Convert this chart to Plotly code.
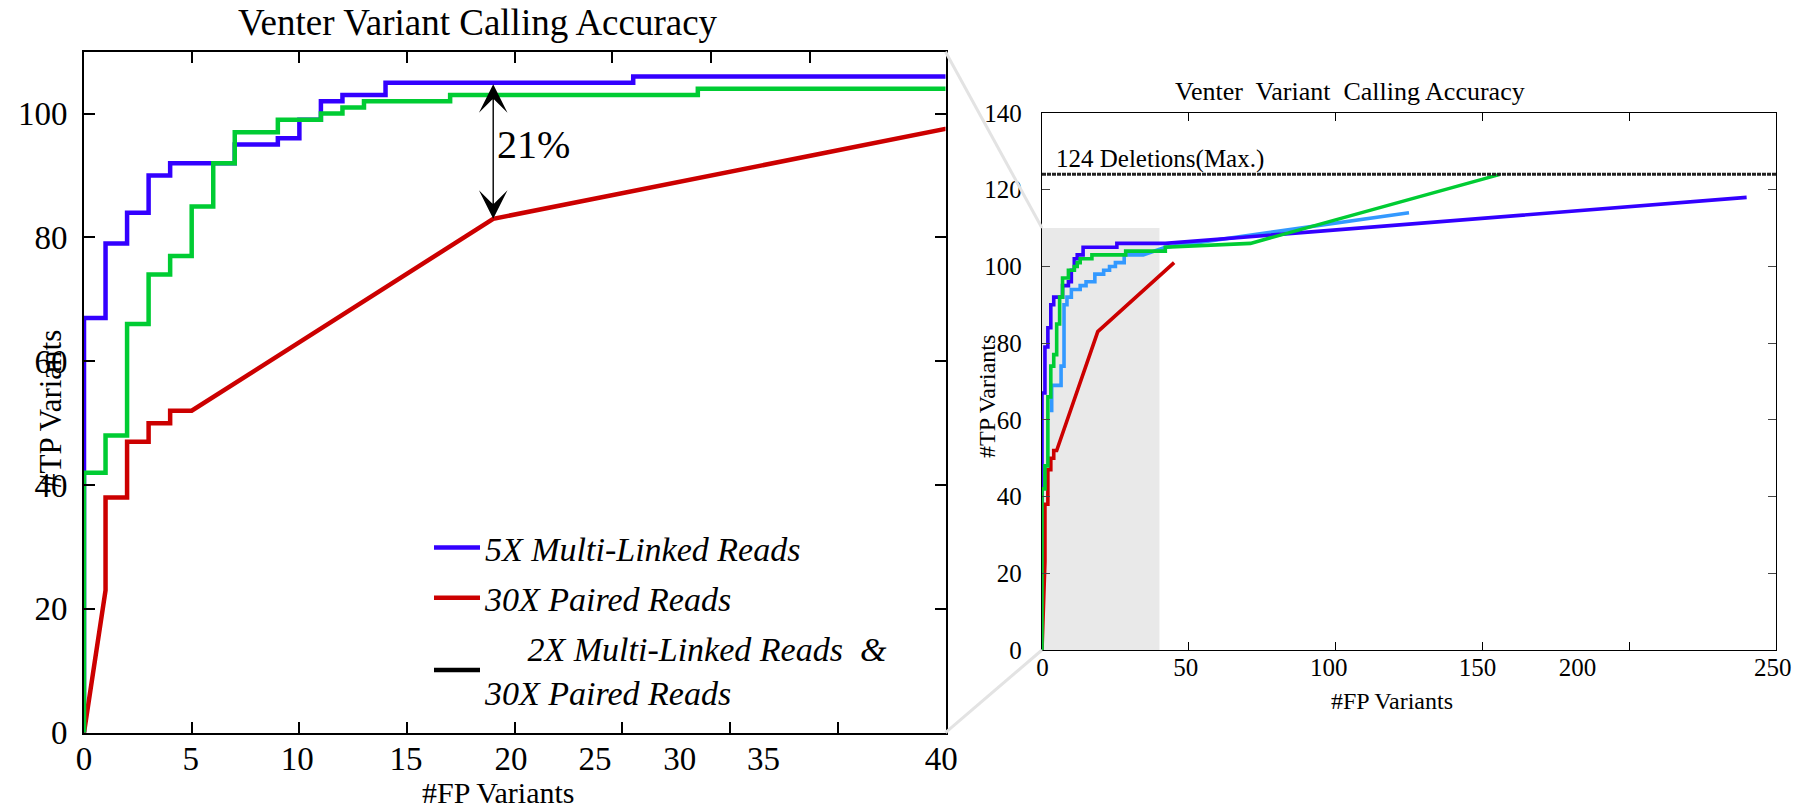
import plotly.graph_objects as go

W, H = 1805, 811

# ---------------- data ----------------
blue_fp = [0, 0, 1, 1, 2, 2, 3, 3, 4, 4, 7, 7, 9, 9, 10, 10, 11, 11, 12, 12, 14, 14, 25.5, 25.5, 42, 240]
blue_tp = [0, 67, 67, 79, 79, 84, 84, 90, 90, 92, 92, 95, 95, 96, 96, 99, 99, 102, 102, 103, 103, 105, 105, 106, 106, 118]
green_fp = [0, 0, 1, 1, 2, 2, 3, 3, 4, 4, 5, 5, 6, 6, 7, 7, 9, 9, 11, 11, 12, 12, 13, 13, 17, 17, 28.5, 28.5, 42, 42, 71, 156]
green_tp = [0, 42, 42, 48, 48, 66, 66, 74, 74, 77, 77, 85, 85, 92, 92, 97, 97, 99, 99, 100, 100, 101, 101, 102, 102, 103, 103, 104, 104, 105, 106, 124]
red_fp = [0, 1, 1, 2, 2, 3, 3, 4, 4, 5, 19, 45]
red_tp = [0, 23, 38, 38, 47, 47, 50, 50, 52, 52, 83, 101]
lblue_fp = [3.3, 3.3, 6.5, 6.5, 7.5, 7.5, 8.5, 8.5, 10, 10, 13, 13, 15, 15, 18, 18, 21, 21, 23, 23, 25, 25, 28, 28, 34.5, 42, 125]
lblue_tp = [62, 69, 69, 74, 74, 90, 90, 92, 92, 94, 94, 95, 95, 96, 96, 98, 98, 99, 99, 100, 100, 101, 101, 103, 103, 105, 114]

series_names = ["5X Multi-Linked Reads", "30X Paired Reads",
                "\u00a0\u00a0\u00a0\u00a0 2X Multi-Linked Reads\u00a0\u00a0&<br>30X Paired Reads"]

main_x_ticks = [0, 5, 10, 15, 20, 25, 30, 35, 40]
main_x_label_pos = [0, 4.96, 9.9, 14.95, 19.83, 23.73, 27.66, 31.55, 39.8]
main_x_labels = ["0", "5", "10", "15", "20", "25", "30", "35", "40"]
main_top_ticks = [5, 10, 15, 20, 24.5, 29.1, 33.7]
main_y_ticks = [0, 20, 40, 60, 80, 100]

inset_x_ticks = [0, 50, 100, 150, 200, 250]
inset_x_label_pos = [0.2, 49, 97.7, 148.3, 182.4, 248.9]
inset_x_labels = ["0", "50", "100", "150", "200", "250"]
inset_y_ticks = [0, 20, 40, 60, 80, 100, 120, 140]

max_deletions = 124
zoom_box_fp = [0, 40]
zoom_box_tp = [0, 110]
gap_top, gap_bottom = 105, 83
gap_fp = 19

# ---------------- style ----------------
BLUE, GREEN, RED, LBLUE = "#3300ff", "#00cc33", "#cc0000", "#3399ff"
SERIF = "Liberation Serif"

# plot-area geometry (paper fractions)
main_dx = [84 / W, 945.5 / W]
main_dy = [1 - 732.7 / H, 1 - 51.7 / H]
ins_dx = [1042 / W, 1776 / W]
ins_dy = [1 - 650 / H, 1 - 113 / H]
main_rx, main_ry = [0, 40], [0, 110]
ins_rx, ins_ry = [0, 250], [0, 140]


def px(dom, rng, v):
    return dom[0] + (v - rng[0]) / (rng[1] - rng[0]) * (dom[1] - dom[0])


fig = go.Figure()

# inset traces (drawn first)
fig.add_trace(go.Scatter(x=lblue_fp, y=lblue_tp, mode="lines", line=dict(color=LBLUE, width=3.6),
                         xaxis="x2", yaxis="y2", showlegend=False, hoverinfo="skip"))
fig.add_trace(go.Scatter(x=blue_fp, y=blue_tp, mode="lines", line=dict(color=BLUE, width=3.6),
                         xaxis="x2", yaxis="y2", showlegend=False, hoverinfo="skip"))
fig.add_trace(go.Scatter(x=red_fp, y=red_tp, mode="lines", line=dict(color=RED, width=3.6),
                         xaxis="x2", yaxis="y2", showlegend=False, hoverinfo="skip"))
fig.add_trace(go.Scatter(x=green_fp, y=green_tp, mode="lines", line=dict(color=GREEN, width=3.6),
                         xaxis="x2", yaxis="y2", showlegend=False, hoverinfo="skip"))

# main chart traces
fig.add_trace(go.Scatter(x=blue_fp, y=blue_tp, mode="lines", line=dict(color=BLUE, width=4.5),
                         name=series_names[0], legendgroup="a", legendrank=1))
fig.add_trace(go.Scatter(x=red_fp, y=red_tp, mode="lines", line=dict(color=RED, width=4.5),
                         name=series_names[1], legendgroup="b", legendrank=2))
fig.add_trace(go.Scatter(x=green_fp, y=green_tp, mode="lines", line=dict(color=GREEN, width=4.5),
                         showlegend=False))
fig.add_trace(go.Scatter(x=[None], y=[None], mode="lines", line=dict(color="black", width=4.5),
                         name=series_names[2], legendgroup="c", legendrank=3))

# empty traces so the overlay axes (label / top-tick axes) get drawn
for xa, ya in (("x3", "y"), ("x4", "y"), ("x5", "y2")):
    fig.add_trace(go.Scatter(x=[None], y=[None], mode="lines", xaxis=xa, yaxis=ya,
                             showlegend=False, hoverinfo="skip"))

axis_common = dict(showgrid=False, zeroline=False, linecolor="black", ticks="inside",
                   tickcolor="black", fixedrange=True)

fig.update_layout(
    width=W, height=H,
    margin=dict(l=0, r=0, t=0, b=0, autoexpand=False),
    paper_bgcolor="white", plot_bgcolor="white",
    font=dict(family=SERIF, color="black"),
    showlegend=True,
    legend=dict(x=429 / W, y=1 - 519 / H, xanchor="left", yanchor="top",
                bgcolor="rgba(0,0,0,0)", borderwidth=0, tracegroupgap=3, itemwidth=46,
                font=dict(family=SERIF, size=34, style="italic", color="black")),
    # main chart
    xaxis=dict(domain=main_dx, range=main_rx, anchor="y", tickvals=main_x_ticks, showticklabels=False,
               ticklen=11, tickwidth=1.5, showline=True, linewidth=1.6, mirror=True, **axis_common),
    xaxis3=dict(domain=main_dx, range=main_rx, anchor="y", overlaying="x", side="bottom",
                tickvals=main_x_label_pos, ticktext=main_x_labels, showline=False, showgrid=False,
                zeroline=False, ticks="", tickfont=dict(size=33, family=SERIF), ticklabelstandoff=3,
                fixedrange=True),
    xaxis4=dict(domain=main_dx, range=main_rx, anchor="y", overlaying="x", side="top",
                tickvals=main_top_ticks, showticklabels=False, showline=False, showgrid=False,
                zeroline=False, ticks="inside", ticklen=11, tickwidth=1.5, tickcolor="black",
                fixedrange=True),
    yaxis=dict(domain=main_dy, range=main_ry, anchor="x", tickvals=main_y_ticks,
               ticklen=11, tickwidth=1.5, showline=True, linewidth=1.6, mirror="ticks",
               tickfont=dict(size=33, family=SERIF), ticklabelstandoff=8, **axis_common),
    # inset chart
    xaxis2=dict(domain=ins_dx, range=ins_rx, anchor="y2", tickvals=inset_x_ticks, showticklabels=False,
                ticklen=8, tickwidth=1.3, showline=True, linewidth=1.4, mirror="ticks", **axis_common),
    xaxis5=dict(domain=ins_dx, range=ins_rx, anchor="y2", overlaying="x2", side="bottom",
                tickvals=inset_x_label_pos, ticktext=inset_x_labels, showline=False, showgrid=False,
                zeroline=False, ticks="", tickfont=dict(size=25, family=SERIF), ticklabelstandoff=0,
                fixedrange=True),
    yaxis2=dict(domain=ins_dy, range=ins_ry, anchor="x2", tickvals=inset_y_ticks,
                ticklen=8, tickwidth=1.3, showline=True, linewidth=1.4, mirror="ticks",
                tickfont=dict(size=25, family=SERIF), ticklabelstandoff=14,
                **{**axis_common, "tickcolor": "#444"}),
)

# shapes: zoom box, max line, connectors
fig.add_shape(type="rect", xref="x2", yref="y2", x0=zoom_box_fp[0], x1=zoom_box_fp[1],
              y0=zoom_box_tp[0], y1=zoom_box_tp[1], fillcolor="#e9e9e9", line=dict(width=0), layer="below")
fig.add_shape(type="line", xref="x2", yref="y2", x0=ins_rx[0], x1=ins_rx[1],
              y0=max_deletions, y1=max_deletions, line=dict(color="#222", width=3, dash="4px,1px"))
fig.add_shape(type="line", xref="paper", yref="paper",
              x0=main_dx[1], y0=main_dy[1],
              x1=px(ins_dx, ins_rx, zoom_box_fp[0]), y1=px(ins_dy, ins_ry, zoom_box_tp[1]),
              line=dict(color="#e3e3e3", width=3))
fig.add_shape(type="line", xref="paper", yref="paper",
              x0=main_dx[1], y0=main_dy[0],
              x1=px(ins_dx, ins_rx, zoom_box_fp[0]), y1=px(ins_dy, ins_ry, zoom_box_tp[0]),
              line=dict(color="#e3e3e3", width=3))

ann = []
# titles
ann.append(dict(text="Venter Variant Calling Accuracy", xref="paper", yref="paper",
                x=478 / W, y=1 - 22 / H, xanchor="center", yanchor="middle", showarrow=False,
                font=dict(size=37, family=SERIF)))
ann.append(dict(text="Venter\u00a0 Variant\u00a0 Calling Accuracy", xref="paper", yref="paper",
                x=1350 / W, y=1 - 91 / H, xanchor="center", yanchor="middle", showarrow=False,
                font=dict(size=26, family=SERIF)))
# axis titles
ann.append(dict(text="#FP Variants", xref="paper", yref="paper", x=498 / W, y=0,
                xanchor="center", yanchor="bottom", showarrow=False, font=dict(size=30, family=SERIF)))
ann.append(dict(text="#TP Variants", xref="paper", yref="paper", x=50 / W, y=1 - 410 / H,
                xanchor="center", yanchor="middle", textangle=-90, showarrow=False,
                font=dict(size=31, family=SERIF)))
ann.append(dict(text="#FP Variants", xref="paper", yref="paper", x=1392 / W, y=1 - 701 / H,
                xanchor="center", yanchor="middle", showarrow=False, font=dict(size=24, family=SERIF)))
ann.append(dict(text="#TP Variants", xref="paper", yref="paper", x=987 / W, y=1 - 396 / H,
                xanchor="center", yanchor="middle", textangle=-90, showarrow=False,
                font=dict(size=24, family=SERIF)))
# max label
ann.append(dict(text=f"{max_deletions} Deletions(Max.)", xref="x2", yref="y2", x=4, y=max_deletions,
                xanchor="left", yanchor="bottom", yshift=-1, showarrow=False,
                font=dict(size=25, family=SERIF)))
# gap arrow
ann.append(dict(text="", xref="x", yref="y", x=gap_fp, y=gap_bottom, axref="x", ayref="y",
                ax=gap_fp, ay=gap_top, showarrow=True, arrowhead=3, startarrowhead=3,
                arrowside="end+start", arrowsize=3.4, startarrowsize=3.4, arrowwidth=1.4,
                arrowcolor="black", standoff=0, startstandoff=0))
ann.append(dict(text="21%", xref="x", yref="y", x=gap_fp + 0.1, y=95, xanchor="left", yanchor="middle",
                showarrow=False, font=dict(size=40, family=SERIF)))
fig.update_layout(annotations=ann)

fig.write_html("out.html")
